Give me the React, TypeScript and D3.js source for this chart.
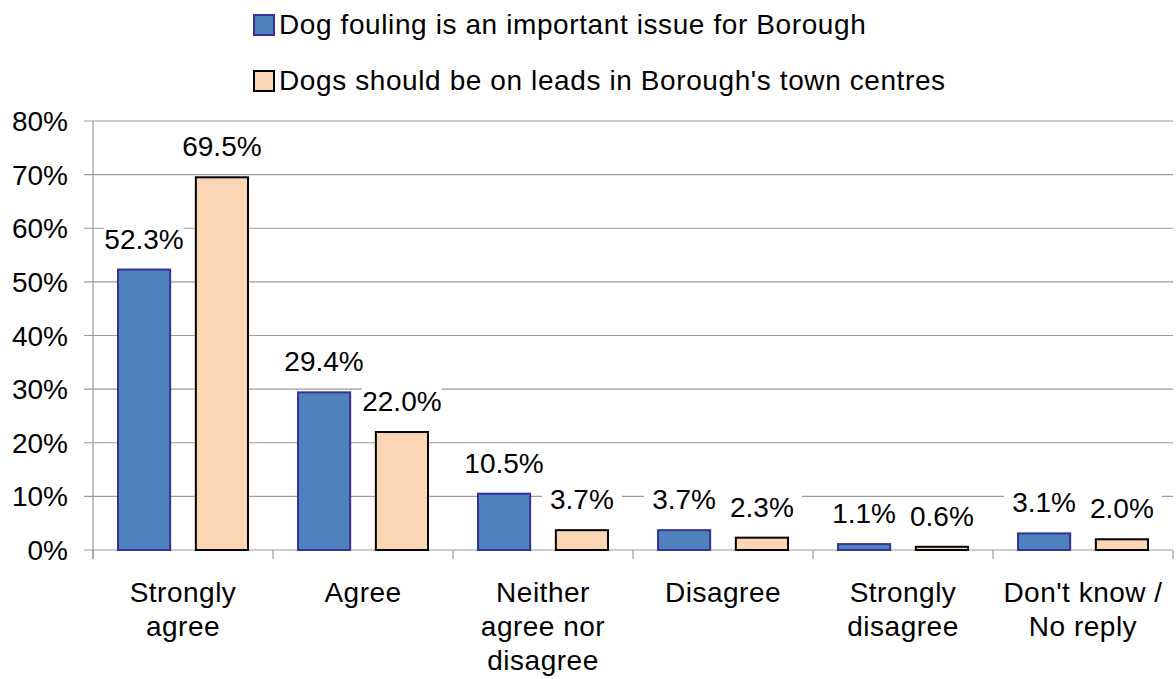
import React from "react";
import * as d3 from "d3";

const categories: string[][] = [
  ["Strongly", "agree"],
  ["Agree"],
  ["Neither", "agree nor", "disagree"],
  ["Disagree"],
  ["Strongly", "disagree"],
  ["Don't know /", "No reply"],
];
const seriesNames = [
  "Dog fouling is an important issue for Borough",
  "Dogs should be on leads in Borough's town centres",
];
const foulingValues = [52.3, 29.4, 10.5, 3.7, 1.1, 3.1];
const leadsValues = [69.5, 22.0, 3.7, 2.3, 0.6, 2.0];
const yTicks = [0, 10, 20, 30, 40, 50, 60, 70, 80];

const W = 1176;
const H = 679;
const FONT = "'Liberation Sans', Arial, sans-serif";
const fills = ["#4F81BD", "#FCD5B5"];
const strokes = ["#333399", "#000000"];

export default function App() {
  const left = 93;
  const right = 1173;
  const y0 = 550;
  const yTop = 121;
  const idx = categories.map((_, i) => String(i));
  const x0 = d3.scaleBand<string>().domain(idx).range([left, right]).paddingInner(0).paddingOuter(0);
  const bw = x0.bandwidth();
  const x1 = d3.scaleBand<string>().domain(["0", "1"]).range([25, bw - 25]).paddingInner(0.33).paddingOuter(0);
  const y = d3.scaleLinear().domain([0, 80]).range([y0, yTop]);
  const series = [foulingValues, leadsValues];
  const fmt = (v: number) => v.toFixed(1) + "%";

  const labels: { x: number; y: number; text: string }[] = [];
  series.forEach((vals, s) =>
    vals.forEach((v, i) => {
      const cx = (x0(String(i)) as number) + (x1(String(s)) as number) + x1.bandwidth() / 2;
      labels.push({ x: cx, y: y(v) - 21, text: fmt(v) });
    })
  );

  return (
    <svg
      width={W}
      height={H}
      style={{ position: "absolute", left: 0, top: 0, background: "#fff" }}
      fontFamily={FONT}
    >
      {/* gridlines */}
      {yTicks.map((t) => (
        <line key={"g" + t} x1={84} x2={right} y1={y(t)} y2={y(t)} stroke="#9A9A9A" strokeWidth={1.2} />
      ))}
      {/* y axis */}
      <line x1={left} x2={left} y1={yTop} y2={y0 + 9} stroke="#9A9A9A" strokeWidth={1.2} />
      {/* x ticks */}
      {d3.range(categories.length + 1).map((i) => {
        const xx = left + i * bw;
        return <line key={"xt" + i} x1={xx} x2={xx} y1={y0} y2={y0 + 9} stroke="#9A9A9A" strokeWidth={1.2} />;
      })}
      {/* y tick labels */}
      {yTicks.map((t) => (
        <text key={"yl" + t} x={68} y={y(t) + 10} textAnchor="end" fontSize={28} fill="#000">
          {t + "%"}
        </text>
      ))}
      {/* label backgrounds */}
      {labels.map((l, i) => (
        <rect key={"lb" + i} x={l.x - 40} y={l.y - 26} width={80} height={32} fill="#fff" />
      ))}
      {/* bars */}
      {series.map((vals, s) =>
        vals.map((v, i) => {
          const bx = (x0(String(i)) as number) + (x1(String(s)) as number);
          return (
            <rect
              key={"b" + s + "-" + i}
              x={bx}
              y={y(v)}
              width={x1.bandwidth()}
              height={y0 - y(v)}
              fill={fills[s]}
              stroke={strokes[s]}
              strokeWidth={2}
            />
          );
        })
      )}
      {/* data labels */}
      {labels.map((l, i) => (
        <text key={"l" + i} x={l.x} y={l.y} textAnchor="middle" fontSize={28} fill="#000">
          {l.text}
        </text>
      ))}
      {/* category labels */}
      {categories.map((lines, i) => {
        const cx = (x0(String(i)) as number) + bw / 2;
        return (
          <text key={"c" + i} textAnchor="middle" fontSize={28} fill="#000" letterSpacing={0.5}>
            {lines.map((ln, j) => (
              <tspan key={j} x={cx} y={602 + j * 34}>
                {ln}
              </tspan>
            ))}
          </text>
        );
      })}
      {/* legend */}
      {seriesNames.map((name, s) => (
        <g key={"lg" + s}>
          <rect x={254} y={15 + s * 56} width={20} height={20} fill={fills[s]} stroke={strokes[s]} strokeWidth={2} />
          <text x={279} y={34 + s * 56} fontSize={28} fill="#000" letterSpacing={0.6}>
            {name}
          </text>
        </g>
      ))}
    </svg>
  );
}
